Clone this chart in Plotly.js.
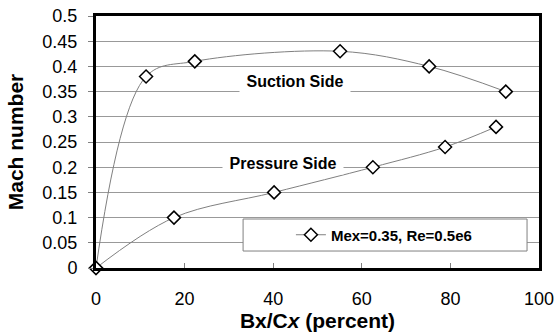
<!DOCTYPE html>
<html>
<head>
<meta charset="utf-8">
<script src="https://cdn.plot.ly/plotly-3.0.1.min.js"></script>
<style>html,body{margin:0;padding:0;background:#fff;}#chart{width:557px;height:332px;}</style>
</head>
<body>
<div id="chart"></div>
<script>
// Data
var suctionX = [0, 11.3, 22.3, 55.1, 75.2, 92.5];
var suctionY = [0, 0.38, 0.41, 0.43, 0.40, 0.35];
var pressureX = [0, 17.6, 40.2, 62.5, 78.8, 90.3];
var pressureY = [0, 0.10, 0.15, 0.20, 0.24, 0.28];
var seriesName = 'Mex=0.35, Re=0.5e6';
var xTicks = [0, 20, 40, 60, 80, 100];
var yTicks = [0, 0.05, 0.1, 0.15, 0.2, 0.25, 0.3, 0.35, 0.4, 0.45, 0.5];
var yTickText = ['0', '0.05', '0.1', '0.15', '0.2', '0.25', '0.3', '0.35', '0.4', '0.45', '0.5'];

var FONT = 'Arial, "Liberation Sans", sans-serif';
var lineStyle = {color: '#808080', width: 1, shape: 'spline', smoothing: 1};
var markerStyle = {symbol: 'diamond', size: 10, color: '#ffffff', line: {color: '#000000', width: 1.5}};

var traces = [
  {x: suctionX, y: suctionY, mode: 'lines+markers', name: seriesName, line: lineStyle, marker: markerStyle, showlegend: true, cliponaxis: false},
  {x: pressureX, y: pressureY, mode: 'lines+markers', name: seriesName, line: lineStyle, marker: markerStyle, showlegend: false, cliponaxis: false}
];

var layout = {
  width: 557, height: 332,
  margin: {l: 96, r: 18, t: 16, b: 64, pad: 0},
  paper_bgcolor: '#ffffff', plot_bgcolor: '#ffffff',
  font: {family: FONT, color: '#000000'},
  xaxis: {
    range: [0, 100], tickvals: xTicks, ticktext: xTicks.map(String),
    ticks: 'inside', ticklen: 5, tickcolor: '#808080', tickwidth: 1,
    showgrid: false, zeroline: false,
    showline: true, linecolor: '#000000', linewidth: 3, mirror: true,
    tickfont: {family: FONT, size: 18, color: '#000000'},
    ticklabelstandoff: 12,
    title: {text: '<b>Bx/C<i>x</i> (percent)</b>', font: {family: FONT, size: 21, color: '#000000'}, standoff: 0},
    automargin: false, fixedrange: true
  },
  yaxis: {
    range: [0, 0.5], tickvals: yTicks, ticktext: yTickText,
    ticks: 'outside', ticklen: 5, tickcolor: '#808080', tickwidth: 1,
    showgrid: true, gridcolor: '#999999', gridwidth: 1, zeroline: false,
    showline: true, linecolor: '#000000', linewidth: 3, mirror: true,
    tickfont: {family: FONT, size: 18, color: '#000000'},
    ticklabelstandoff: 7,
    title: {text: '<b>Mach number</b>', font: {family: FONT, size: 21, color: '#000000'}, standoff: 14},
    automargin: false, fixedrange: true
  },
  shapes: [
    {type: 'rect', xref: 'x', yref: 'y', layer: 'between',
     x0: 33.2, x1: 97.3, y0: 0.0337, y1: 0.0972,
     fillcolor: '#ffffff', line: {color: '#808080', width: 1}}
  ],
  legend: {
    x: 0.44, y: 0.131, xanchor: 'left', yanchor: 'middle',
    bgcolor: 'rgba(0,0,0,0)', borderwidth: 0,
    font: {family: FONT, size: 15, color: '#000000', weight: 'bold'}
  },
  annotations: [
    {x: 44.9, y: 0.371, xref: 'x', yref: 'y', text: '<b>Suction Side</b>', showarrow: false,
     font: {family: FONT, size: 16, color: '#000000'}, bgcolor: '#ffffff', width: 104, height: 20, borderpad: 3},
    {x: 42.2, y: 0.208, xref: 'x', yref: 'y', text: '<b>Pressure Side</b>', showarrow: false,
     font: {family: FONT, size: 16, color: '#000000'}, bgcolor: '#ffffff', width: 116, height: 18, borderpad: 2}
  ]
};

Plotly.newPlot('chart', traces, layout, {displayModeBar: false, staticPlot: true});
</script>
</body>
</html>
